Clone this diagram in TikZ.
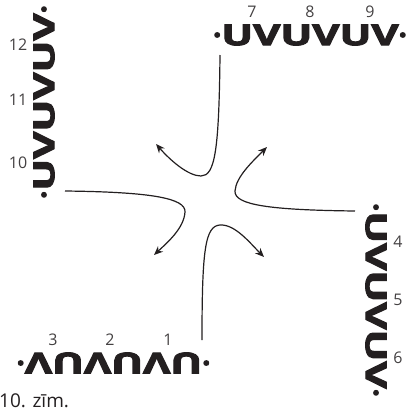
\documentclass[tikz,border=0pt]{standalone}
\usepackage{fontspec}
\setmainfont{Open Sans}
\newfontfamily\heavyfont{Open Sans}[BoldFeatures={FakeBold=3}]
\usetikzlibrary{arrows.meta}
\definecolor{ink}{HTML}{231F20}
\newcommand{\glyphrow}[1]{·\scalebox{1.45}[1]{#1}·}
\tikzset{
  glyphs/.style={inner sep=0pt, outer sep=0pt, text=ink, font=\heavyfont\fontsize{29}{31}\selectfont\bfseries},
  num/.style={inner sep=0pt, text=ink!85, font=\fontsize{16}{18}\selectfont},
  flow/.style={draw=ink, line width=1.2pt, -{Stealth[length=9pt,width=7.5pt]}},
}
\begin{document}
\begin{tikzpicture}[x=1pt,y=-1pt]
\useasboundingbox (0,0) rectangle (409,413);
% pattern strings
\node[glyphs] (top) at (310,35) {\glyphrow{UVUVUV}};
\node[glyphs, rotate=180] (bottom) at (113.5,363) {\glyphrow{UVUVUV}};
\node[glyphs, rotate=90] (left) at (44,102) {\glyphrow{UVUVUV}};
\node[glyphs, rotate=-90] (right) at (376,300) {\glyphrow{UVUVUV}};
% numbers
\node[num] (n7) at (252,12) {7};
\node[num] (n8) at (310,12) {8};
\node[num] (n9) at (370,12) {9};
\node[num] (n3) at (53,340) {3};
\node[num] (n2) at (110,340) {2};
\node[num] (n1) at (168,340) {1};
\node[num] (n12) at (18,45) {12};
\node[num] (n11) at (18,100) {11};
\node[num] (n10) at (18,163) {10};
\node[num] (n4) at (398,242) {4};
\node[num] (n5) at (398,300) {5};
\node[num] (n6) at (398,358) {6};
% caption
\node[num, text=ink, font=\fontsize{19}{21}\selectfont, anchor=base west] (cap) at (-1,407) {10. zīm.};
% end points
\coordinate (s1) at (220,55);
\coordinate (e1) at (156,144);
\coordinate (s2) at (65,191);
\coordinate (e2) at (154,255);
\coordinate (s3) at (355,211);
\coordinate (e3) at (267,147);
\coordinate (s4) at (202,340);
\coordinate (e4) at (264,257);
% flow lines
\draw[flow] (s1) .. controls (219,150) and (215,176) .. (201,176) .. controls (188,176) and (170,160) .. (e1);
\draw[flow] (s2) .. controls (150,192) and (186,198) .. (185,212) .. controls (184,228) and (168,242) .. (e2);
\draw[flow] (s3) .. controls (270,210) and (234,205) .. (235,191) .. controls (236,177) and (252,162) .. (e3);
\draw[flow] (s4) .. controls (202,250) and (205,226) .. (220,225) .. controls (235,224) and (250,243) .. (e4);
\end{tikzpicture}
\end{document}
